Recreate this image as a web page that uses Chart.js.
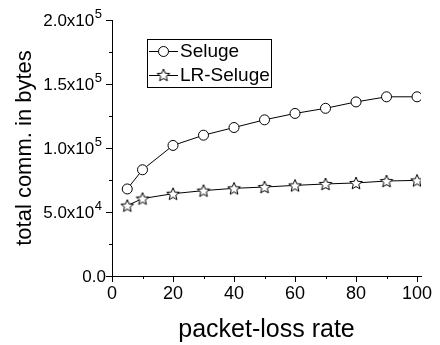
<!DOCTYPE html>
<html>
<head>
<meta charset="utf-8">
<script src="https://cdn.jsdelivr.net/npm/chart.js@4/dist/chart.umd.min.js"></script>
<style>
  body { margin: 0; background: #fff; }
  #wrap { width: 440px; height: 345px; }
</style>
</head>
<body>
<div id="wrap"><canvas id="myChart" width="440" height="345"></canvas></div>
<script>
// --- data ---
const lossRates = [5, 10, 20, 30, 40, 50, 60, 70, 80, 90, 100];
const selugeBytes = [68000, 83000, 102000, 110000, 116000, 122000, 127000, 131000, 136000, 140000, 140000];
const lrSelugeBytes = [55000, 60500, 64300, 66700, 68500, 69500, 70800, 71900, 72700, 74200, 74700];
const seriesNames = ['Seluge', 'LR-Seluge'];
const xTicks = [0, 20, 40, 60, 80, 100];
const yTicks = [0, 50000, 100000, 150000, 200000];
const yTickBase = ['0.0', '5.0x10', '1.0x10', '1.5x10', '2.0x10'];
const yTickExp = ['', '4', '5', '5', '5'];

const FONT = "'Liberation Sans', Arial, sans-serif";

// open five-point star used as point marker
const makeStar = () => {
    const c = document.createElement('canvas');
    c.width = 16; c.height = 16;
    const g = c.getContext('2d');
    g.beginPath();
    for (let i = 0; i < 10; i++) {
        const r = i % 2 === 0 ? 6.6 : 2.9;
        const a = -Math.PI / 2 + i * Math.PI / 5;
        const px = 8 + r * Math.cos(a), py = 8.6 + r * Math.sin(a);
        if (i === 0) g.moveTo(px, py); else g.lineTo(px, py);
    }
    g.closePath();
    g.fillStyle = '#fff';
    g.fill();
    g.lineWidth = 1;
    g.strokeStyle = '#000';
    g.stroke();
    return c;
};
const star = makeStar();

const toPoints = (ys) => ys.map((y, i) => ({ x: lossRates[i], y: y }));

// tick marks (outward, major + minor), y labels with exponents, framed legend
const decorations = {
    id: 'decorations',
    afterDraw(chart) {
        const ctx = chart.ctx;
        const xs = chart.scales.x, ys = chart.scales.y;
        const area = chart.chartArea;
        ctx.save();
        ctx.strokeStyle = '#000';
        ctx.lineWidth = 1;
        ctx.beginPath();
        for (let v = 0; v <= 100; v += 10) {
            const px = Math.round(xs.getPixelForValue(v)) + 0.5;
            const len = v % 20 === 0 ? 6 : 3;
            ctx.moveTo(px, area.bottom);
            ctx.lineTo(px, area.bottom + len);
        }
        for (let v = 0; v <= 200000; v += 25000) {
            const py = Math.round(ys.getPixelForValue(v)) + 0.5;
            const len = v % 50000 === 0 ? 6 : 3;
            ctx.moveTo(area.left, py);
            ctx.lineTo(area.left - len, py);
        }
        ctx.stroke();

        // y tick labels: mantissa x 10 with raised exponent
        ctx.fillStyle = '#000';
        ys.ticks.forEach((t, i) => {
            const py = ys.getPixelForValue(t.value);
            const exp = yTickExp[i];
            ctx.textAlign = 'right';
            if (exp) {
                ctx.font = '13px ' + FONT;
                ctx.textBaseline = 'alphabetic';
                ctx.fillText(exp, 102, py - 2);
                const ew = ctx.measureText(exp).width;
                ctx.font = '17px ' + FONT;
                ctx.textBaseline = 'middle';
                ctx.fillText(yTickBase[i], 102 - ew - 0.5, py + 1);
            } else {
                ctx.font = '17px ' + FONT;
                ctx.textBaseline = 'middle';
                ctx.fillText(yTickBase[i], 106, py + 1);
            }
        });

        // legend
        ctx.textAlign = 'left';
        const bx = 147.5, by = 39.5;
        ctx.strokeRect(bx, by, 124, 48);
        ctx.font = '19px ' + FONT;
        ctx.textBaseline = 'middle';
        const rows = [51, 75];
        rows.forEach((ry, i) => {
            ctx.beginPath();
            ctx.moveTo(149, ry + 0.5);
            ctx.lineTo(178, ry + 0.5);
            ctx.stroke();
            if (i === 0) {
                ctx.beginPath();
                ctx.arc(163.5, ry + 0.5, 5, 0, Math.PI * 2);
                ctx.fillStyle = '#fff';
                ctx.fill();
                ctx.stroke();
            } else {
                ctx.drawImage(star, 163.5 - 8, ry + 0.5 - 8.6);
            }
            ctx.fillStyle = '#000';
            ctx.fillText(seriesNames[i], 180, ry + 1);
        });
        ctx.restore();
    }
};

const ctx = document.getElementById('myChart');
new Chart(ctx, {
    type: 'line',
    data: {
        datasets: [
            {
                label: seriesNames[0],
                data: toPoints(selugeBytes),
                borderColor: '#000',
                borderWidth: 1,
                pointStyle: 'circle',
                pointRadius: 5,
                pointBackgroundColor: '#fff',
                pointBorderColor: '#000',
                pointBorderWidth: 1
            },
            {
                label: seriesNames[1],
                data: toPoints(lrSelugeBytes),
                borderColor: '#000',
                borderWidth: 1,
                pointStyle: star,
                pointRadius: 6
            }
        ]
    },
    options: {
        responsive: false,
        animation: false,
        layout: { padding: { top: 20, right: 19, bottom: 0, left: 0 } },
        plugins: { legend: { display: false }, tooltip: { enabled: false } },
        scales: {
            x: {
                type: 'linear',
                min: 0,
                max: 101.3,
                afterBuildTicks: (s) => { s.ticks = xTicks.map(v => ({ value: v })); },
                afterFit: (s) => { s.height = 69; },
                grid: { display: false, drawTicks: false },
                border: { display: true, color: '#000', width: 1 },
                ticks: { color: '#000', padding: 7, font: { family: FONT, size: 18 }, maxRotation: 0 },
                title: { display: true, text: 'packet-loss rate', color: '#000', padding: { top: 0, bottom: 0 }, font: { family: FONT, size: 25 } }
            },
            y: {
                min: 0,
                max: 200000,
                afterBuildTicks: (s) => { s.ticks = yTicks.map(v => ({ value: v })); },
                afterFit: (s) => { s.width = 112; },
                grid: { display: false, drawTicks: false },
                border: { display: true, color: '#000', width: 1 },
                ticks: { display: false },
                title: { display: true, text: 'total comm. in bytes', color: '#000', padding: { top: 12, bottom: 0 }, font: { family: FONT, size: 22 } }
            }
        }
    },
    plugins: [decorations]
});
</script>
</body>
</html>
